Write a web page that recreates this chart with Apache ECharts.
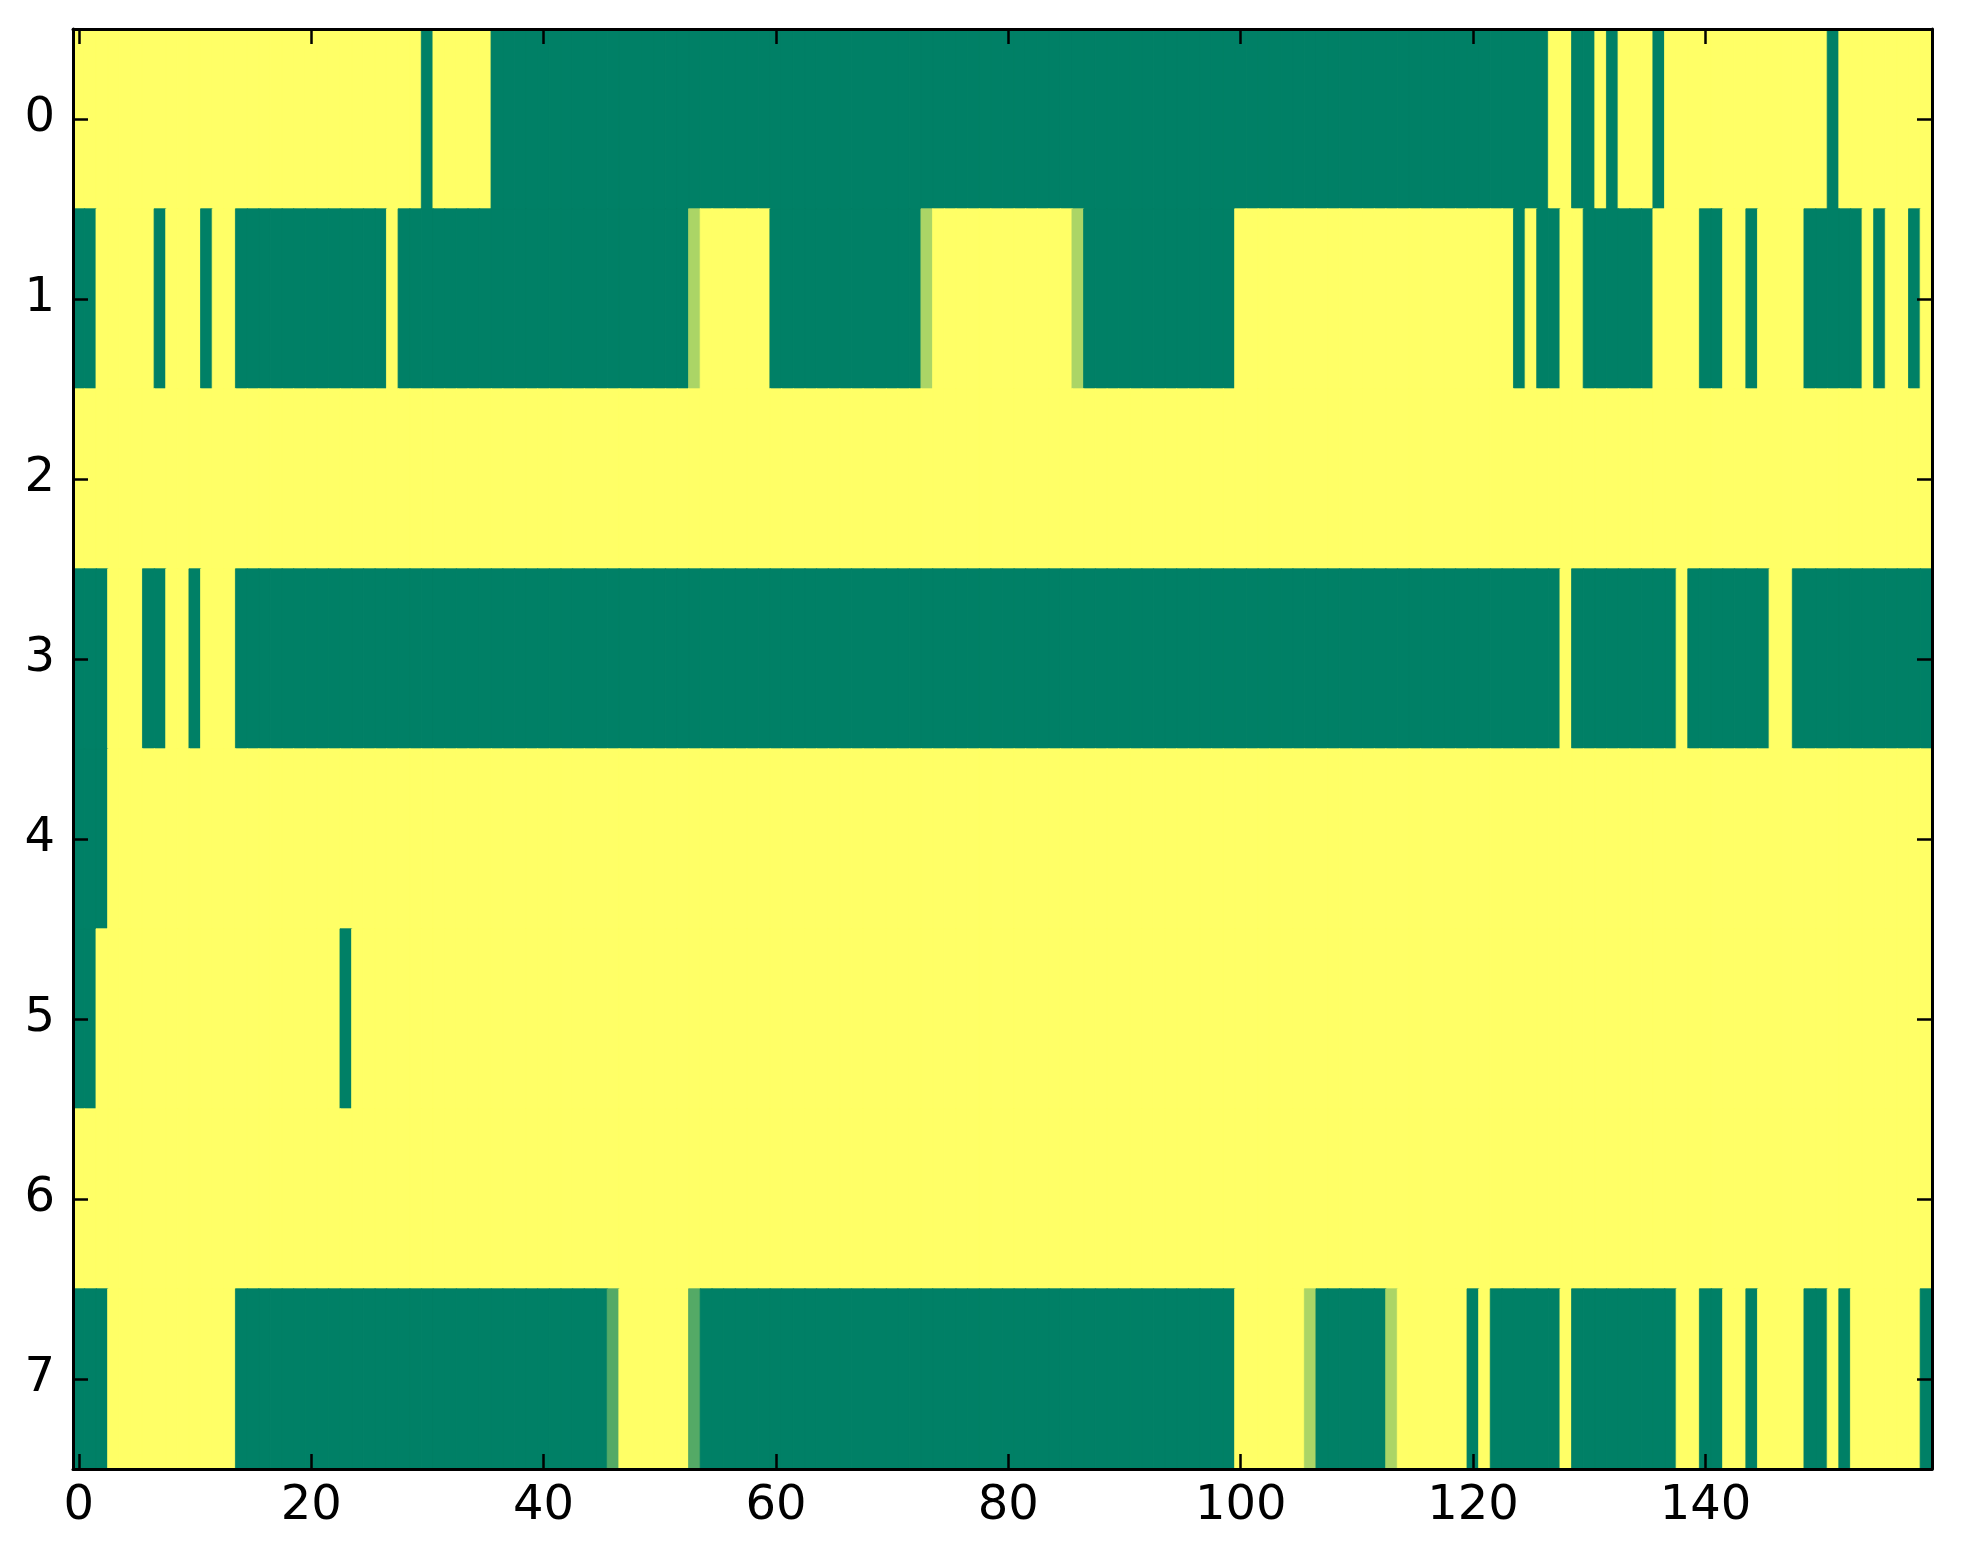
<!DOCTYPE html>
<html>
<head>
<meta charset="utf-8">
<script src="https://cdn.jsdelivr.net/npm/echarts@6/dist/echarts.min.js"></script>
<style>
html,body{margin:0;padding:0;background:#fff;}
#chart{width:1963px;height:1564px;}
</style>
</head>
<body>
<div id="chart"></div>
<script>
// Cell values (0 = green, 1 = yellow, summer colormap), one array per row, 160 columns each
var row0 = [
1,1,1,1,1,1,1,1,1,1, 1,1,1,1,1,1,1,1,1,1, 1,1,1,1,1,1,1,1,1,1, 0,1,1,1,1,1,0,0,0,0,
0,0,0,0,0,0,0,0,0,0, 0,0,0,0,0,0,0,0,0,0, 0,0,0,0,0,0,0,0,0,0, 0,0,0,0,0,0,0,0,0,0,
0,0,0,0,0,0,0,0,0,0, 0,0,0,0,0,0,0,0,0,0, 0,0,0,0,0,0,0,0,0,0, 0,0,0,0,0,0,0,0,0,0,
0,0,0,0,0,0,0,1,1,0, 0,1,0,1,1,1,0,1,1,1, 1,1,1,1,1,1,1,1,1,1, 1,0,1,1,1,1,1,1,1,1
];
var row1 = [
0,0,1,1,1,1,1,0,1,1, 1,0,1,1,0,0,0,0,0,0, 0,0,0,0,0,0,0,1,0,0, 0,0,0,0,0,0,0,0,0,0,
0,0,0,0,0,0,0,0,0,0, 0,0,0,0.67,1,1,1,1,1,1, 0,0,0,0,0,0,0,0,0,0, 0,0,0,0.67,1,1,1,1,1,1,
1,1,1,1,1,1,0.67,0,0,0, 0,0,0,0,0,0,0,0,0,0, 1,1,1,1,1,1,1,1,1,1, 1,1,1,1,1,1,1,1,1,1,
1,1,1,1,0,1,0,0,1,1, 0,0,0,0,0,0,1,1,1,1, 0,0,1,1,0,1,1,1,1,0, 0,0,0,0,1,0,1,1,0,1
];
var row2 = [
1,1,1,1,1,1,1,1,1,1, 1,1,1,1,1,1,1,1,1,1, 1,1,1,1,1,1,1,1,1,1, 1,1,1,1,1,1,1,1,1,1,
1,1,1,1,1,1,1,1,1,1, 1,1,1,1,1,1,1,1,1,1, 1,1,1,1,1,1,1,1,1,1, 1,1,1,1,1,1,1,1,1,1,
1,1,1,1,1,1,1,1,1,1, 1,1,1,1,1,1,1,1,1,1, 1,1,1,1,1,1,1,1,1,1, 1,1,1,1,1,1,1,1,1,1,
1,1,1,1,1,1,1,1,1,1, 1,1,1,1,1,1,1,1,1,1, 1,1,1,1,1,1,1,1,1,1, 1,1,1,1,1,1,1,1,1,1
];
var row3 = [
0,0,0,1,1,1,0,0,1,1, 0,1,1,1,0,0,0,0,0,0, 0,0,0,0,0,0,0,0,0,0, 0,0,0,0,0,0,0,0,0,0,
0,0,0,0,0,0,0,0,0,0, 0,0,0,0,0,0,0,0,0,0, 0,0,0,0,0,0,0,0,0,0, 0,0,0,0,0,0,0,0,0,0,
0,0,0,0,0,0,0,0,0,0, 0,0,0,0,0,0,0,0,0,0, 0,0,0,0,0,0,0,0,0,0, 0,0,0,0,0,0,0,0,0,0,
0,0,0,0,0,0,0,0,1,0, 0,0,0,0,0,0,0,0,1,0, 0,0,0,0,0,0,1,1,0,0, 0,0,0,0,0,0,0,0,0,0
];
var row4 = [
0,0,0,1,1,1,1,1,1,1, 1,1,1,1,1,1,1,1,1,1, 1,1,1,1,1,1,1,1,1,1, 1,1,1,1,1,1,1,1,1,1,
1,1,1,1,1,1,1,1,1,1, 1,1,1,1,1,1,1,1,1,1, 1,1,1,1,1,1,1,1,1,1, 1,1,1,1,1,1,1,1,1,1,
1,1,1,1,1,1,1,1,1,1, 1,1,1,1,1,1,1,1,1,1, 1,1,1,1,1,1,1,1,1,1, 1,1,1,1,1,1,1,1,1,1,
1,1,1,1,1,1,1,1,1,1, 1,1,1,1,1,1,1,1,1,1, 1,1,1,1,1,1,1,1,1,1, 1,1,1,1,1,1,1,1,1,1
];
var row5 = [
0,0,1,1,1,1,1,1,1,1, 1,1,1,1,1,1,1,1,1,1, 1,1,1,0,1,1,1,1,1,1, 1,1,1,1,1,1,1,1,1,1,
1,1,1,1,1,1,1,1,1,1, 1,1,1,1,1,1,1,1,1,1, 1,1,1,1,1,1,1,1,1,1, 1,1,1,1,1,1,1,1,1,1,
1,1,1,1,1,1,1,1,1,1, 1,1,1,1,1,1,1,1,1,1, 1,1,1,1,1,1,1,1,1,1, 1,1,1,1,1,1,1,1,1,1,
1,1,1,1,1,1,1,1,1,1, 1,1,1,1,1,1,1,1,1,1, 1,1,1,1,1,1,1,1,1,1, 1,1,1,1,1,1,1,1,1,1
];
var row6 = [
1,1,1,1,1,1,1,1,1,1, 1,1,1,1,1,1,1,1,1,1, 1,1,1,1,1,1,1,1,1,1, 1,1,1,1,1,1,1,1,1,1,
1,1,1,1,1,1,1,1,1,1, 1,1,1,1,1,1,1,1,1,1, 1,1,1,1,1,1,1,1,1,1, 1,1,1,1,1,1,1,1,1,1,
1,1,1,1,1,1,1,1,1,1, 1,1,1,1,1,1,1,1,1,1, 1,1,1,1,1,1,1,1,1,1, 1,1,1,1,1,1,1,1,1,1,
1,1,1,1,1,1,1,1,1,1, 1,1,1,1,1,1,1,1,1,1, 1,1,1,1,1,1,1,1,1,1, 1,1,1,1,1,1,1,1,1,1
];
var row7 = [
0,0,0,1,1,1,1,1,1,1, 1,1,1,1,0,0,0,0,0,0, 0,0,0,0,0,0,0,0,0,0, 0,0,0,0,0,0,0,0,0,0,
0,0,0,0,0,0,0.33,1,1,1, 1,1,1,0.33,0,0,0,0,0,0, 0,0,0,0,0,0,0,0,0,0, 0,0,0,0,0,0,0,0,0,0,
0,0,0,0,0,0,0,0,0,0, 0,0,0,0,0,0,0,0,0,0, 1,1,1,1,1,1,0.67,0,0,0, 0,0,0,0.67,1,1,1,1,1,1,
0,1,0,0,0,0,0,0,1,0, 0,0,0,0,0,0,0,0,1,1, 0,0,1,1,0,1,1,1,1,0, 0,1,0,1,1,1,1,1,1,0
];
var rows = [row0, row1, row2, row3, row4, row5, row6, row7];
var rowLabels = ['0','1','2','3','4','5','6','7'];
var xTickLabels = ['0','20','40','60','80','100','120','140'];
var colCount = 160;
var lowColor = '#008066';
var highColor = '#ffff66';

var xCats = [];
for (var i = 0; i < colCount; i++) xCats.push(String(i));

// summer colormap colour for a value, used only to paint cell borders the same as the fill (hides seams)
function cellColor(v) { return echarts.color.lerp(v, [lowColor, highColor]); }

var data = [];
rows.forEach(function (r, y) {
  r.forEach(function (v, x) {
    data.push({value: [x, y, v], itemStyle: {borderColor: cellColor(v), borderWidth: 0.8}});
  });
});

function isTick(idx) { return xTickLabels.indexOf(String(idx)) >= 0; }

var FONT = 'DejaVu Sans';
var chart = echarts.init(document.getElementById('chart'), null, {renderer: 'canvas'});
var lineStyle = {color: '#000', width: 3};
var tickStyle = {color: '#000', width: 2.5};
chart.setOption({
  animation: false,
  backgroundColor: '#fff',
  grid: {left: 73, top: 29, width: 1859, height: 1440, containLabel: false},
  visualMap: {
    show: false, min: 0, max: 1, calculable: false,
    inRange: {color: [lowColor, highColor]}
  },
  xAxis: [{
    type: 'category', data: xCats, position: 'bottom', z: 10,
    axisLine: {show: true, lineStyle: lineStyle},
    axisTick: {show: true, inside: true, length: 15, alignWithLabel: true,
      interval: function (idx) { return isTick(idx); }, lineStyle: tickStyle},
    axisLabel: {show: true, interval: function (idx) { return isTick(idx); },
      fontFamily: FONT, fontSize: 48, color: '#000', margin: 14},
    splitLine: {show: false}
  }, {
    type: 'category', data: xCats, position: 'top', z: 10,
    axisLine: {show: true, lineStyle: lineStyle},
    axisTick: {show: true, inside: true, length: 15, alignWithLabel: true,
      interval: function (idx) { return isTick(idx); }, lineStyle: tickStyle},
    axisLabel: {show: false},
    splitLine: {show: false}
  }],
  yAxis: [{
    type: 'category', data: rowLabels, inverse: true, position: 'left', z: 10,
    axisLine: {show: true, lineStyle: lineStyle},
    axisTick: {show: true, inside: true, length: 15, alignWithLabel: true, lineStyle: tickStyle},
    axisLabel: {show: true, fontFamily: FONT, fontSize: 48, color: '#000', margin: 18},
    splitLine: {show: false}
  }, {
    type: 'category', data: rowLabels, inverse: true, position: 'right', z: 10,
    axisLine: {show: true, lineStyle: lineStyle},
    axisTick: {show: true, inside: true, length: 15, alignWithLabel: true, lineStyle: tickStyle},
    axisLabel: {show: false},
    splitLine: {show: false}
  }],
  series: [{
    type: 'heatmap', xAxisIndex: 0, yAxisIndex: 0, z: 2,
    data: data, progressive: 0,
    emphasis: {disabled: true}
  }]
});
</script>
</body>
</html>
